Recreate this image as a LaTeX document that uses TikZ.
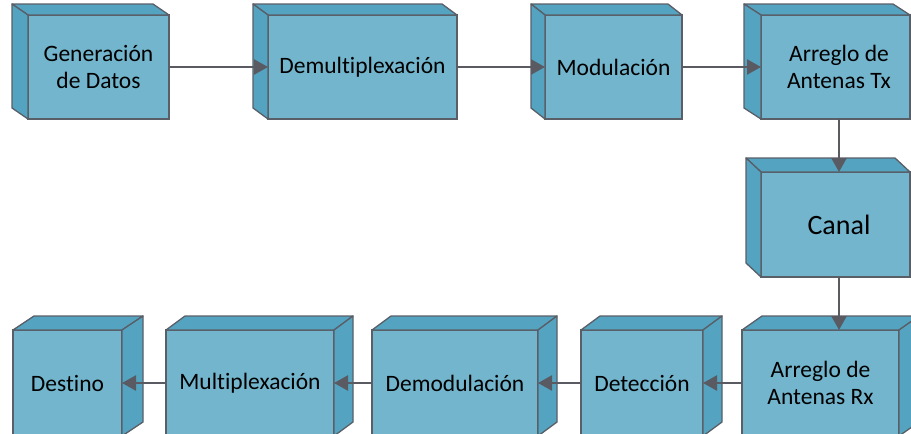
\documentclass[tikz,border=0pt]{standalone}
\usepackage{fontspec}
\setmainfont{Carlito}[Ligatures=NoCommon]
\usetikzlibrary{arrows.meta}

\definecolor{facefront}{RGB}{114,181,204}
\definecolor{faceside}{RGB}{84,164,193}
\definecolor{edgegray}{RGB}{89,94,103}
\definecolor{flowgray}{RGB}{90,90,98}

\tikzset{
  blockface/.style={draw=edgegray, line width=1.3pt, fill=facefront,
    inner sep=0pt, outer sep=0pt, align=center,
    font=\fontsize{23.5}{27}\selectfont},
  sideface/.style={draw=edgegray, line width=1.3pt, fill=faceside, line join=round},
  flow/.style={draw=flowgray, line width=2.5pt,
    -{Triangle[length=14pt,width=15pt]}},
}

% block with its depth drawn to the upper left: name, x1, y1, x2, y2, dx, dy, text
\newcommand\cubeleft[8]{%
  \node[blockface, minimum width={(#4-#2)*1pt}, minimum height={(#5-#3)*1pt}]
    (#1) at ({(#2+#4)/2},{(#3+#5)/2}) {#8};
  \draw[sideface] (#1.north west) -- ++(-#6,-#7) -- ++({#4-#2},0)
    -- (#1.north east) -- cycle;
  \draw[sideface] (#1.north west) -- ++(-#6,-#7) -- ++(0,{#5-#3})
    -- (#1.south west) -- cycle;
}

% block with its depth drawn to the upper right: name, x1, y1, x2, y2, dx, dy, text
\newcommand\cuberight[8]{%
  \node[blockface, minimum width={(#4-#2)*1pt}, minimum height={(#5-#3)*1pt}]
    (#1) at ({(#2+#4)/2},{(#3+#5)/2}) {#8};
  \draw[sideface] (#1.north west) -- ++(#6,-#7) -- ++({#4-#2},0)
    -- (#1.north east) -- cycle;
  \draw[sideface] (#1.north east) -- ++(#6,-#7) -- ++(0,{#5-#3})
    -- (#1.south east) -- cycle;
}

\begin{document}
\begin{tikzpicture}[x=1pt, y=-1pt]
  \useasboundingbox (0,0) rectangle (911,434);
  \clip (0,0) rectangle (911,434);

  % transmitter chain
  \cubeleft{gen}{28}{15}{169}{119}{16}{11}{Generación\\de Datos}
  \cubeleft{demux}{268}{15}{457}{119}{15}{11}{Demultiplexación}
  \cubeleft{mod}{545}{15}{682}{119}{14}{11}{Modulación}
  \cubeleft{tx}{761}{15}{910}{119}{17}{11}{\hspace*{7pt}Arreglo de\\\hspace*{7pt}Antenas Tx}

  % channel
  \cubeleft{canal}{761}{172}{910}{277}{15}{14}{\fontsize{28}{32}\selectfont\hspace*{7pt}Canal}

  % receiver chain
  \cuberight{dest}{13}{330}{122}{436}{21}{14}{Destino}
  \cuberight{mux}{166}{330}{334}{436}{19}{14}{Multiplexación}
  \cuberight{demod}{372}{330}{538}{436}{19}{14}{Demodulación}
  \cuberight{det}{581}{330}{703}{436}{19}{14}{Detección}
  \cuberight{rx}{742}{330}{899}{436}{20}{14}{Arreglo de\\Antenas Rx}

  % signal flow
  \draw[flow] (gen.east) -- (demux.west);
  \draw[flow] (demux.east) -- (mod.west);
  \draw[flow] (mod.east) -- (tx.west);
  \draw[flow] ([xshift=3.5pt]tx.south) -- ([xshift=3.5pt]canal.north);
  \coordinate (rxin) at ([xshift=3.5pt]canal.south |- rx.north);
  \draw[flow] ([xshift=3.5pt]canal.south) -- (rxin);
  \draw[flow] (rx.west) -- (det.east);
  \draw[flow] (det.west) -- (demod.east);
  \draw[flow] (demod.west) -- (mux.east);
  \draw[flow] (mux.west) -- (dest.east);
\end{tikzpicture}
\end{document}
